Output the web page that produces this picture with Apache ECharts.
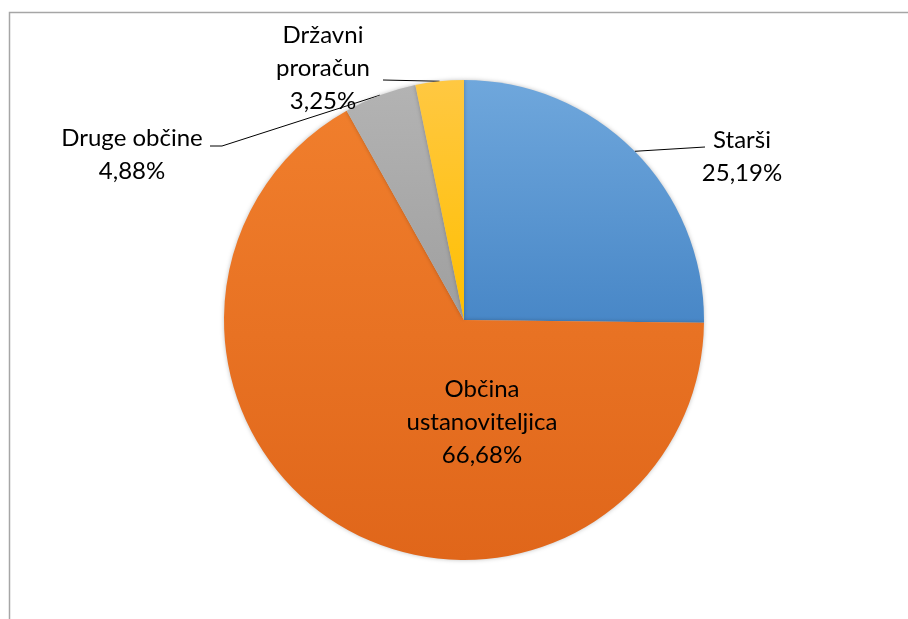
<!DOCTYPE html>
<html>
<head>
<meta charset="utf-8">
<script src="https://cdn.jsdelivr.net/npm/echarts@6/dist/echarts.min.js"></script>
<style>
  html, body { margin: 0; padding: 0; background: #fff; }
  #chart { width: 908px; height: 619px; }
</style>
</head>
<body>
<div id="chart"></div>
<script>
(function () {
    // podatki
    var names = ['Starši', 'Občina ustanoviteljica', 'Druge občine', 'Državni proračun'];
    var values = [25.19, 66.68, 4.88, 3.25];
    var labelTexts = ['Starši\n25,19%', 'Občina\nustanoviteljica\n66,68%', 'Druge občine\n4,88%', 'Državni\nproračun\n3,25%'];

    // barve (zgoraj -> spodaj)
    var colors = [
        ['#6fa7dc', '#4887c7'],
        ['#f07e2c', '#e0661a'],
        ['#b3b3b3', '#9f9f9f'],
        ['#ffc842', '#ffbf00']
    ];

    // položaj nalepk (središče besedila)
    var labelPos = {
        'Starši': [742, 157],
        'Občina ustanoviteljica': [482, 422],
        'Druge občine': [132, 155],
        'Državni proračun': [323, 68]
    };
    // kam se pripne vodilna črta
    var lineEnds = {
        'Starši': [[705, 147]],
        'Druge občine': [[222, 146], [210, 146]],
        'Državni proračun': [[383, 80]]
    };

    var myChart = echarts.init(document.getElementById('chart'));

    var data = names.map(function (n, i) {
        return {
            name: n,
            value: values[i],
            label: { formatter: labelTexts[i], position: i === 1 ? 'inside' : 'outside' },
            labelLine: { show: i !== 1 },
            itemStyle: {
                color: new echarts.graphic.LinearGradient(0, 0, 0, 1, [
                    { offset: 0, color: colors[i][0] },
                    { offset: 1, color: colors[i][1] }
                ])
            }
        };
    });

    var option = {
        animation: false,
        graphic: [{
            type: 'rect',
            shape: { x: 9.5, y: 12.5, width: 1000, height: 1000 },
            style: { fill: 'none', stroke: '#a6a6a6', lineWidth: 1.5 },
            silent: true
        }],
        series: [{
            type: 'pie',
            center: [464, 320],
            radius: 240,
            startAngle: 90,
            clockwise: true,
            data: data,
            itemStyle: {
                borderWidth: 0,
                shadowBlur: 4,
                shadowColor: 'rgba(0,0,0,0.25)'
            },
            label: {
                color: '#000',
                fontFamily: 'Lato',
                fontSize: 24,
                lineHeight: 33,
                align: 'center'
            },
            labelLine: {
                lineStyle: { color: '#000', width: 1 }
            },
            labelLayout: function (params) {
                var name = names[params.dataIndex];
                var p = labelPos[name];
                var res = { x: p[0], y: p[1], align: 'center', verticalAlign: 'middle' };
                if (lineEnds[name] && params.labelLinePoints) {
                    res.labelLinePoints = [params.labelLinePoints[0]].concat(lineEnds[name]);
                }
                return res;
            }
        }]
    };

    myChart.setOption(option);

    window.addEventListener('resize', function () {
        myChart.resize();
    });
})();
</script>
</body>
</html>
